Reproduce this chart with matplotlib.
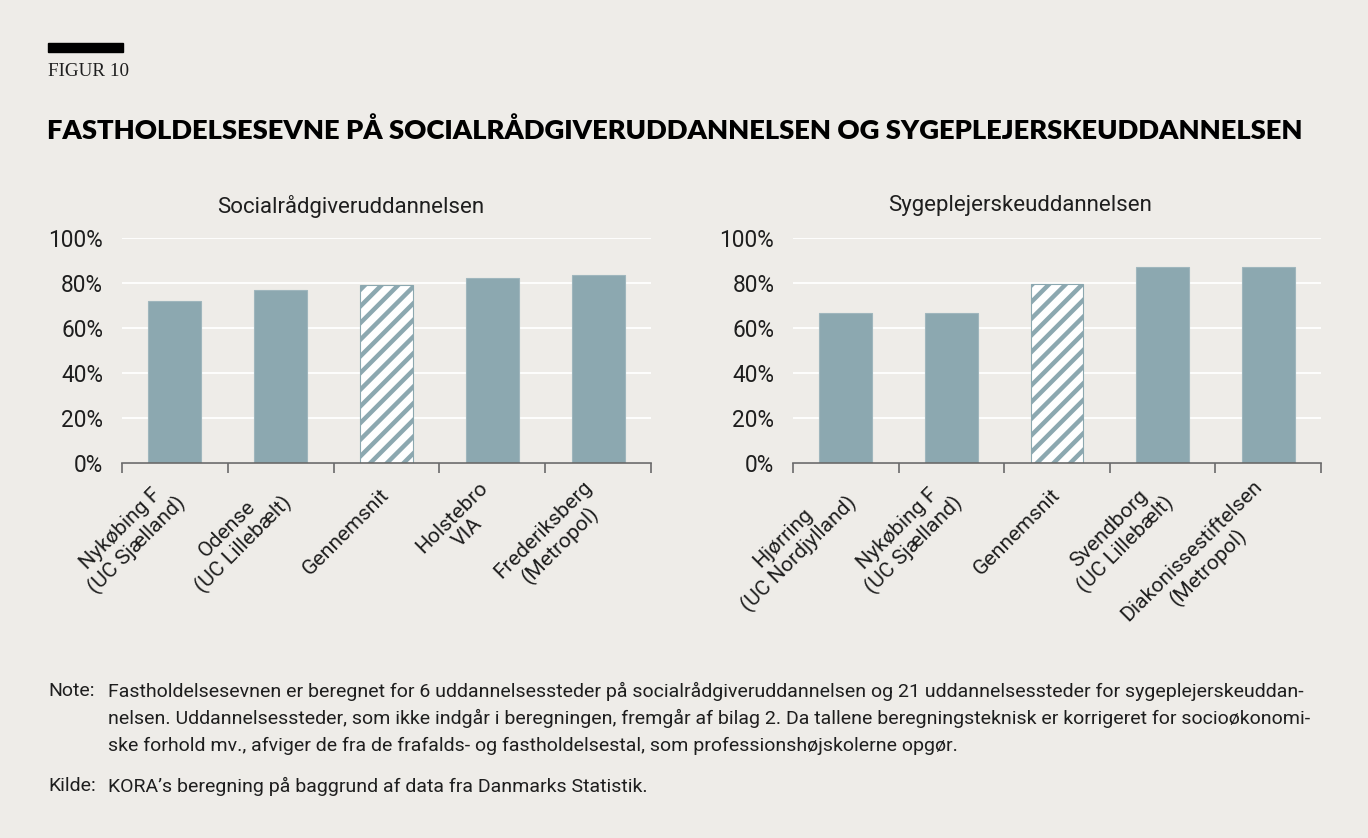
import matplotlib.pyplot as plt
import numpy as np
from matplotlib.patches import Rectangle
from matplotlib.ticker import FixedLocator, PercentFormatter
from matplotlib.transforms import ScaledTranslation

plt.rcParams['font.family'] = ['Roboto', 'DejaVu Sans']
plt.rcParams['hatch.linewidth'] = 3.2

bg = '#eeece8'
bar_color = '#8ca8b0'
ink = '#1e1e1e'

social_labels = ['Nykøbing F\n(UC Sjælland)', 'Odense\n(UC Lillebælt)', 'Gennemsnit',
                 'Holstebro\nVIA', 'Frederiksberg\n(Metropol)']
social_values = [72.0, 77.0, 79.0, 82.0, 83.5]

nurse_labels = ['Hjørring\n(UC Nordjylland)', 'Nykøbing F\n(UC Sjælland)', 'Gennemsnit',
                'Svendborg\n(UC Lillebælt)', 'Diakonissestiftelsen\n(Metropol)']
nurse_values = [66.5, 66.8, 79.5, 87.0, 87.3]

avg_label = 'Gennemsnit'

W, H = 1368, 838
fig = plt.figure(figsize=(W / 100, H / 100), dpi=100, facecolor=bg)

# header: black rule, figure number, title
fig.patches.append(Rectangle((48 / W, 1 - 52 / H), 75 / W, 9 / H,
                             transform=fig.transFigure, color='black', zorder=5))
fig.text(48 / W, 1 - 72 / H, 'FIGUR 10', family='Liberation Serif', fontsize=13.8,
         va='center', ha='left', color=ink)
fig.text(47 / W, 1 - 130 / H,
         'FASTHOLDELSESEVNE PÅ SOCIALRÅDGIVERUDDANNELSEN OG SYGEPLEJERSKEUDDANNELSEN',
         fontsize=19.7, fontweight='heavy', family=['Lato', 'DejaVu Sans'],
         va='center', ha='left', color='black')


def panel(rect, title, title_x, labels, values):
    ax = fig.add_axes(rect)
    ax.set_facecolor(bg)
    x = np.arange(len(values))
    for xi, lab, v in zip(x, labels, values):
        if lab == avg_label:
            ax.bar(xi, v, width=0.5, color='white', edgecolor=bar_color, hatch='//',
                   linewidth=0.8, zorder=3)
        else:
            ax.bar(xi, v, width=0.5, color=bar_color, edgecolor='#9fb6bd',
                   linewidth=0.8, zorder=3)
    ax.set_xlim(-0.5, len(values) - 0.5)
    ax.set_ylim(0, 100)
    ax.set_yticks(np.arange(0, 101, 20))
    ax.yaxis.set_major_formatter(PercentFormatter(decimals=0))
    ax.grid(axis='y', color='white', linewidth=1.3, zorder=0)
    ax.tick_params(axis='y', length=0, labelsize=16.3, pad=13.5, colors=ink)
    for s in ('left', 'right', 'top'):
        ax.spines[s].set_visible(False)
    ax.spines['bottom'].set_color('#6a6a6a')
    ax.spines['bottom'].set_linewidth(1.2)
    ax.spines['bottom'].set_zorder(4)
    ax.set_xticks(x)
    ax.set_xticklabels(labels, rotation=45, ha='right', va='center',
                       rotation_mode='anchor', multialignment='center', fontsize=15.2,
                       color=ink)
    shift = ScaledTranslation(4 / 100, 0, fig.dpi_scale_trans)
    for t in ax.get_xticklabels():
        t.set_transform(t.get_transform() + shift)
    ax.tick_params(axis='x', which='major', length=0, pad=21)
    ax.xaxis.set_minor_locator(FixedLocator(np.arange(-0.5, len(values), 1.0)))
    ax.tick_params(axis='x', which='minor', length=7, width=1.2, color='#6a6a6a')
    fig.text(title_x / W, 1 - 206 / H, title, fontsize=16, ha='center', va='center', color=ink)
    return ax


panel([122 / W, 1 - 463 / H, 529 / W, 225 / H], 'Socialrådgiveruddannelsen', 351,
      social_labels, social_values)
panel([793 / W, 1 - 463 / H, 528 / W, 225 / H], 'Sygeplejerskeuddannelsen', 1020,
      nurse_labels, nurse_values)

# note and source
note_lines = [
    'Fastholdelsesevnen er beregnet for 6 uddannelsessteder på socialrådgiveruddannelsen og 21 uddannelsessteder for sygeplejerskeuddan-',
    'nelsen. Uddannelsessteder, som ikke indgår i beregningen, fremgår af bilag 2. Da tallene beregningsteknisk er korrigeret for socioøkonomi-',
    'ske forhold mv., afviger de fra de frafalds- og fastholdelsestal, som professionshøjskolerne opgør.',
]
note_y = [691, 718, 746]
fig.text(48 / W, 1 - 691 / H, 'Note:', fontsize=14, va='center', color=ink)
for line, yy in zip(note_lines, note_y):
    fig.text(108 / W, 1 - yy / H, line, fontsize=14, va='center', color=ink)
fig.text(48 / W, 1 - 786 / H, 'Kilde:', fontsize=14, va='center', color=ink)
fig.text(108 / W, 1 - 786 / H, 'KORA’s beregning på baggrund af data fra Danmarks Statistik.',
         fontsize=14, va='center', color=ink)

fig.savefig('out.png', dpi=100, facecolor=bg)
